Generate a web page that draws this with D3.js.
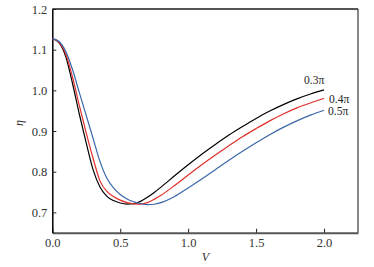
<!DOCTYPE html>
<html><head><meta charset="utf-8">
<script src="https://cdn.jsdelivr.net/npm/d3@7"></script>
<style>html,body{margin:0;padding:0;background:#fff;}svg{display:block;}</style>
</head><body><svg id="c" width="374" height="267"></svg>
<script>
const V = [0,0.05,0.1,0.15,0.2,0.25,0.3,0.35,0.4,0.45,0.5,0.55,0.6,0.65,0.7,0.75,0.8,0.9,1.0,1.1,1.2,1.3,1.4,1.5,1.6,1.7,1.8,1.9,2.0];
const eta03 = [1.127,1.117,1.082,1.015,0.940,0.870,0.805,0.763,0.740,0.729,0.723,0.7205,0.7215,0.727,0.737,0.749,0.762,0.790,0.817,0.843,0.867,0.890,0.911,0.931,0.949,0.965,0.979,0.991,1.001];
const eta04 = [1.127,1.118,1.088,1.031,0.961,0.895,0.833,0.778,0.752,0.739,0.730,0.724,0.721,0.7205,0.724,0.732,0.742,0.766,0.792,0.817,0.841,0.864,0.886,0.906,0.925,0.942,0.957,0.969,0.980];
const eta05 = [1.127,1.120,1.095,1.050,0.993,0.938,0.882,0.826,0.785,0.760,0.744,0.733,0.726,0.7215,0.719,0.720,0.724,0.739,0.760,0.782,0.805,0.828,0.850,0.871,0.891,0.909,0.925,0.939,0.951];
const seriesNames = ["0.3π","0.4π","0.5π"];
const seriesColors = ["#000000","#e0302c","#3b67a8"];
const xTicks = [0,0.5,1.0,1.5,2.0];
const yTicks = [0.7,0.8,0.9,1.0,1.1,1.2];

const svg = d3.select("#c");
const L=52.3, R=358, T=9, B=232.7;
const x = d3.scaleLinear().domain([0,2.25]).range([L,R]);
const y = d3.scaleLinear().domain([0.65,1.2]).range([B,T]);
const font = "'Liberation Serif','Times New Roman',Times,serif";

// frame
svg.append("line").attr("x1",L).attr("x2",R).attr("y1",T).attr("y2",T).attr("stroke","#555").attr("stroke-width",2);
svg.append("line").attr("x1",R).attr("x2",R).attr("y1",T).attr("y2",B).attr("stroke","#111").attr("stroke-width",1);

const xAxis = svg.append("g").attr("transform",`translate(0,${B})`)
  .call(d3.axisBottom(x).tickValues(xTicks).tickFormat(d3.format(".1f")).tickSizeInner(-4).tickSizeOuter(0).tickPadding(5));
xAxis.select(".domain").attr("stroke","#555").attr("stroke-width",2);
xAxis.selectAll(".tick line").attr("stroke","#222").attr("stroke-width",1);
xAxis.selectAll("text").style("font-family",font).style("font-size","12.5px").attr("fill","#333");

const yAxis = svg.append("g").attr("transform",`translate(${L},0)`)
  .call(d3.axisLeft(y).tickValues(yTicks).tickFormat(d3.format(".1f")).tickSizeInner(-4).tickSizeOuter(0).tickPadding(5));
yAxis.select(".domain").attr("stroke","#000").attr("stroke-width",1.5);
yAxis.selectAll(".tick line").attr("stroke","#222").attr("stroke-width",1);
yAxis.selectAll("text").style("font-family",font).style("font-size","12.5px").attr("fill","#333");

// curves
const line = d3.line().x(d=>x(d[0])).y(d=>y(d[1])).curve(d3.curveMonotoneX);
[eta03,eta04,eta05].forEach((arr,i)=>{
  svg.append("path").datum(V.map((v,j)=>[v,arr[j]]))
    .attr("d",line).attr("fill","none").attr("stroke",seriesColors[i]).attr("stroke-width",1.2);
});

// series labels
const labPos = [[304,83.5],[329,102.7],[328,115]];
seriesNames.forEach((s,i)=>{
  svg.append("text").attr("x",labPos[i][0]).attr("y",labPos[i][1]).text(s)
    .style("font-family",font).style("font-size","11.5px").attr("fill","#222");
});

// axis titles
svg.append("text").attr("x",205.5).attr("y",260.5).attr("text-anchor","middle").text("V")
  .style("font-family",font).style("font-style","italic").style("font-size","12px").attr("fill","#333");
svg.append("text").attr("transform","translate(23,123) rotate(-90)").attr("text-anchor","middle").text("η")
  .style("font-family",font).style("font-style","italic").style("font-size","12px").attr("fill","#333");
</script></body></html>
